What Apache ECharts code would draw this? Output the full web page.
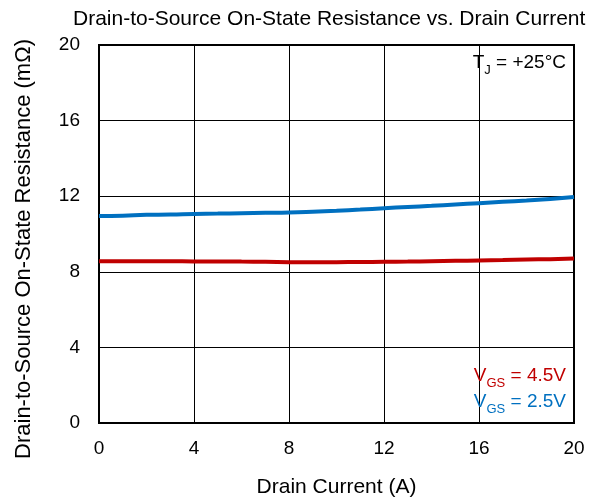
<!DOCTYPE html>
<html><head><meta charset="utf-8">
<script src="https://cdn.jsdelivr.net/npm/echarts@6/dist/echarts.min.js"></script>
<style>html,body{margin:0;padding:0;background:#fff}#c{width:608px;height:503px}</style>
</head><body><div id="c"></div>
<script>
const xValues = [0,1,2,3,4,5,6,7,8,9,10,11,12,13,14,15,16,17,18,19,20];
const vgs25 = [10.95,10.97,11.02,11.03,11.06,11.08,11.1,11.12,11.14,11.18,11.23,11.29,11.36,11.43,11.49,11.56,11.63,11.7,11.77,11.85,11.96];
const vgs45 = [8.56,8.56,8.56,8.56,8.55,8.55,8.54,8.53,8.51,8.5,8.51,8.52,8.53,8.54,8.56,8.58,8.6,8.62,8.65,8.67,8.7];
const xTicks = [0,4,8,12,16,20];
const yTicks = [0,4,8,12,16,20];
const titleText = 'Drain-to-Source On-State Resistance vs. Drain Current';
const xName = 'Drain Current (A)';
const yName = 'Drain-to-Source On-State Resistance (mΩ)';

const chart = echarts.init(document.getElementById('c'));
const font = '"Liberation Sans", Arial, sans-serif';
function ann(text, color, top, size) {
  return { type: 'text', right: 42, top: top, z: 10, style: { text: text, rich: {
    a: { fontFamily: font, fontSize: size, fill: color, verticalAlign: 'bottom', lineHeight: 22 },
    s: { fontFamily: font, fontSize: 13, fill: color, verticalAlign: 'bottom', lineHeight: 14, padding: [0,0,-5,0] } } } };
}
chart.setOption({
  animation: false,
  title: { text: titleText, left: 68, top: 4, textStyle: { fontFamily: font, fontSize: 21, fontWeight: 'normal', color: '#000' } },
  grid: { left: 99, right: 34, top: 45, bottom: 79, show: true, borderColor: '#000', borderWidth: 2, backgroundColor: 'transparent' },
  xAxis: {
    type: 'value', min: xTicks[0], max: xTicks[xTicks.length-1], interval: 4,
    axisLine: { show: false }, axisTick: { show: false },
    splitLine: { show: true, lineStyle: { color: '#000', width: 1 } },
    axisLabel: { fontFamily: font, fontSize: 19, color: '#000', margin: 16 },
    name: xName, nameLocation: 'middle', nameGap: 54,
    nameTextStyle: { fontFamily: font, fontSize: 21, color: '#000' }
  },
  yAxis: {
    type: 'value', min: yTicks[0], max: yTicks[yTicks.length-1], interval: 4,
    axisLine: { show: false }, axisTick: { show: false },
    splitLine: { show: true, lineStyle: { color: '#000', width: 1 } },
    axisLabel: { fontFamily: font, fontSize: 19, color: '#000', margin: 19 }
  },
  series: [
    { type: 'line', data: xValues.map((x,i)=>[x,vgs45[i]]), showSymbol: false, smooth: true, lineStyle: { color: '#c00000', width: 4 }, z: 3 },
    { type: 'line', data: xValues.map((x,i)=>[x,vgs25[i]]), showSymbol: false, smooth: true, lineStyle: { color: '#0070c0', width: 4 }, z: 3 }
  ],
  graphic: [
    { type: 'text', x: 24, y: 249, rotation: Math.PI/2, z: 10, style: { text: yName, fontFamily: font, fontSize: 22, fill: '#000', align: 'center', verticalAlign: 'middle' } },
    ann('{a|T}{s|J}{a| = +25°C}', '#000', 53, 19),
    ann('{a|V}{s|GS}{a| = 4.5V}', '#c00000', 366, 19),
    ann('{a|V}{s|GS}{a| = 2.5V}', '#0070c0', 392, 19)
  ]
});
</script></body></html>
